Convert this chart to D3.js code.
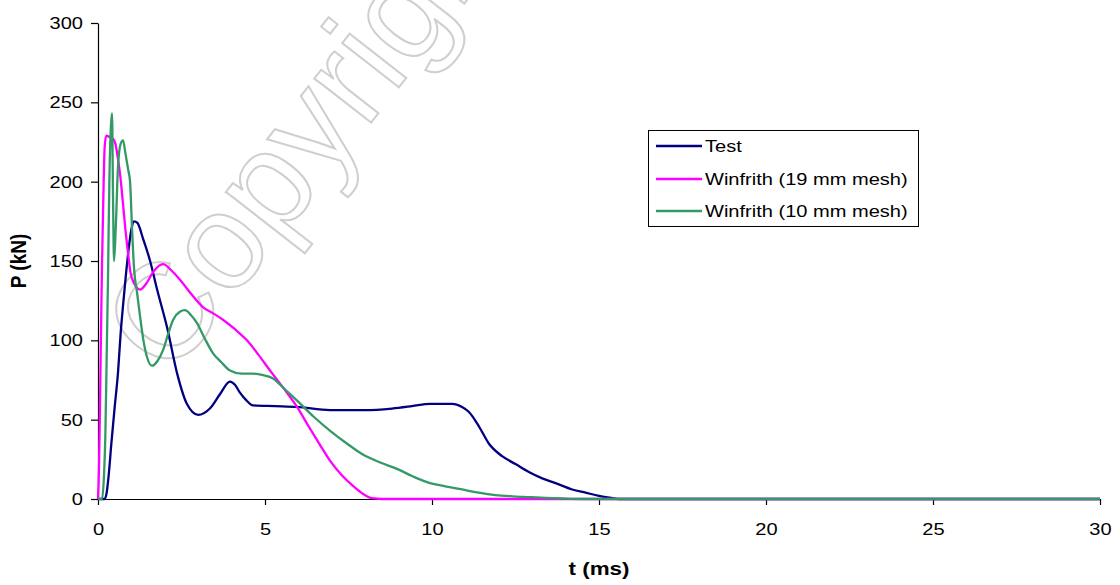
<!DOCTYPE html>
<html>
<head>
<meta charset="utf-8">
<script src="https://cdn.jsdelivr.net/npm/d3@7"></script>
<style>
  html, body { margin: 0; padding: 0; background: #fff; }
  svg { display: block; }
  text { font-family: "Liberation Sans", Arial, sans-serif; fill: #000; }
</style>
</head>
<body>
<svg id="chart" width="1120" height="585"></svg>
<script>
// ---------- data (t in ms, P in kN) ----------
const seriesNames = ["Test", "Winfrith (19 mm mesh)", "Winfrith (10 mm mesh)"];
const seriesColors = ["#000080", "#FF00FF", "#339966"];

const testData = [[0,0],[0.2,0],[0.26,4],[0.32,15],[0.4,35],[0.5,58],[0.6,80],[0.68,105],[0.75,122],[0.83,140],[0.92,158],[1.0,170],[1.08,175],[1.18,174],[1.35,164],[1.56,150],[1.77,132],[2.07,108],[2.37,79],[2.66,60],[3.0,53],[3.35,57],[3.65,66],[3.95,74],[4.1,72],[4.25,67],[4.45,62],[4.64,59],[5.3,58.5],[5.96,58],[6.95,56],[8.0,56],[8.8,57],[9.4,58.5],[9.94,60],[10.6,60],[10.9,58],[11.1,55],[11.4,46],[11.7,35],[12.1,27],[12.5,22],[12.9,17],[13.3,13],[13.7,10],[14.2,6],[14.6,4],[15.0,2],[15.4,0.6],[15.6,0],[30,0]];

const winfrith19Data = [[0,0],[0.03,20],[0.06,60],[0.09,105],[0.12,148],[0.16,190],[0.2,222],[0.25,229],[0.35,228],[0.45,227],[0.52,224],[0.6,214],[0.67,203],[0.74,188],[0.82,170],[0.9,155],[0.97,143],[1.08,136],[1.26,132],[1.45,136],[1.65,143],[1.95,148],[2.2,144],[2.46,138],[2.8,129],[3.14,121],[3.45,117],[3.74,113],[4.1,107],[4.46,100],[4.8,91],[5.15,81],[5.55,70],[5.96,58],[6.3,46],[6.65,34],[6.95,24],[7.3,15],[7.65,8],[7.95,3],[8.2,0.5],[8.5,0],[30,0]];

const winfrith10Data = [[0,0],[0.12,0],[0.18,15],[0.22,40],[0.26,90],[0.3,140],[0.34,200],[0.38,232],[0.42,243],[0.45,190],[0.48,150],[0.53,170],[0.6,210],[0.68,224],[0.75,226],[0.82,218],[0.9,208],[0.96,200],[1.02,170],[1.08,145],[1.17,130],[1.26,115],[1.36,100],[1.46,90],[1.62,84],[1.78,87],[1.95,94],[2.1,104],[2.25,113],[2.45,118],[2.6,119],[2.78,116],[2.96,111],[3.2,101],[3.44,92],[3.7,86],[3.95,81],[4.3,79],[4.64,79],[4.95,78],[5.24,76],[5.6,69],[5.96,62],[6.45,52],[6.95,43],[7.45,35],[7.93,28],[8.45,23],[8.95,19],[9.45,14],[9.94,10],[10.4,8],[10.9,6],[11.4,4],[11.9,2.5],[12.4,1.7],[12.9,1.2],[13.4,0.7],[13.9,0.3],[14.5,0],[30,0]];

const xTicks = [0, 5, 10, 15, 20, 25, 30];
const yTicks = [0, 50, 100, 150, 200, 250, 300];
const xTitle = "t (ms)";
const yTitle = "P (kN)";
const watermark = "Copyright";

// ---------- layout ----------
const svg = d3.select("#chart");
const plotLeft = 98, plotRight = 1100, plotTop = 23, plotBottom = 499;
const SX = 1.18; // horizontal stretch of the reference's lettering

const x = d3.scaleLinear().domain([0, 30]).range([plotLeft, plotRight]);
const y = d3.scaleLinear().domain([0, 300]).range([plotBottom, plotTop]);

// watermark (under everything)
svg.append("text")
  .attr("transform", "translate(312,122) rotate(-52)")
  .attr("text-anchor", "middle")
  .attr("dominant-baseline", "central")
  .style("font-size", "136px")
  .style("fill", "none")
  .style("stroke", "#cfcfcf")
  .style("stroke-width", 2)
  .text(watermark);

// axes
const xAxis = svg.append("g")
  .attr("transform", `translate(0,${plotBottom})`)
  .call(d3.axisBottom(x).tickValues(xTicks).tickSize(6).tickPadding(18).tickSizeOuter(0));
xAxis.selectAll("text").style("font-size", "17px").attr("transform", `scale(${SX},1)`);

const yAxis = svg.append("g")
  .attr("transform", `translate(${plotLeft},0)`)
  .call(d3.axisLeft(y).tickValues(yTicks).tickSize(7).tickSizeOuter(0));
yAxis.selectAll("text").style("font-size", "17px")
  .attr("x", 0).attr("transform", `translate(-15,0) scale(${SX},1)`);
svg.selectAll(".domain, .tick line").attr("stroke", "#000").attr("stroke-width", 1.2);

// axis titles
svg.append("text")
  .attr("transform", `translate(${(plotLeft + plotRight) / 2},575) scale(${SX},1)`)
  .attr("text-anchor", "middle")
  .style("font-size", "19px").style("font-weight", "bold")
  .text(xTitle);
svg.append("text")
  .attr("transform", `translate(26,${(plotTop + plotBottom) / 2}) rotate(-90) scale(1,${SX})`)
  .attr("text-anchor", "middle")
  .style("font-size", "19px").style("font-weight", "bold")
  .text(yTitle);

// lines
const line = d3.line().x(d => x(d[0])).y(d => y(d[1])).curve(d3.curveMonotoneX);
const allData = [testData, winfrith19Data, winfrith10Data];
allData.forEach((data, i) => {
  svg.append("path")
    .datum(data)
    .attr("fill", "none")
    .attr("stroke", seriesColors[i])
    .attr("stroke-width", 2.3)
    .attr("stroke-linejoin", "round")
    .attr("d", line);
});

// legend
const lg = svg.append("g");
lg.append("rect")
  .attr("x", 648.5).attr("y", 130.5).attr("width", 270).attr("height", 96)
  .attr("fill", "#fff").attr("stroke", "#000").attr("stroke-width", 1);
const legendY = [146, 179, 211];
seriesNames.forEach((name, i) => {
  lg.append("line")
    .attr("x1", 656).attr("x2", 702)
    .attr("y1", legendY[i]).attr("y2", legendY[i])
    .attr("stroke", seriesColors[i]).attr("stroke-width", 2.3);
  lg.append("text")
    .attr("transform", `translate(705,${legendY[i] + 6}) scale(${SX},1)`)
    .style("font-size", "17px")
    .text(name);
});
</script>
</body>
</html>
